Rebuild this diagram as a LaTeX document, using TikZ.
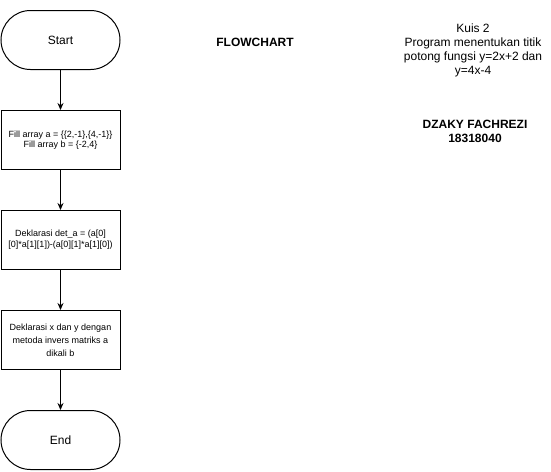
\documentclass[tikz,border=0pt]{standalone}
\usepackage{fontspec}
\setmainfont{Liberation Sans}
\usetikzlibrary{arrows.meta}
\begin{document}
\begin{tikzpicture}[x=1pt,y=-1pt,>={Stealth[length=7pt,width=6pt]},line width=1pt,
  terminal/.style={draw,rounded corners=29.5pt,minimum width=119pt,minimum height=59pt,inner sep=0pt,font=\fontsize{12}{14}\selectfont},
  procbox/.style={draw,minimum width=119pt,minimum height=59pt,inner sep=0pt,align=center}]
  \useasboundingbox (0,0) rectangle (551,471);
  % flow
  \node[terminal] (start) at (60.5,40) {Start};
  \node[procbox,font=\fontsize{9}{10.6}\selectfont] (fill) at (60.5,140)
    {Fill array a = \{\{2,-1\},\{4,-1\}\}\\Fill array b = \{-2,4\}};
  \node[procbox,font=\fontsize{9}{11}\selectfont] (det) at (60.5,240)
    {Deklarasi det\_a = (a[0]\\{}[0]*a[1][1])-(a[0][1]*a[1][0])};
  \node[procbox,font=\fontsize{9}{13}\selectfont] (xy) at (60.5,340)
    {Deklarasi x dan y dengan\\metoda invers matriks a\\dikali b};
  \node[terminal] (end) at (60.5,440) {End};
  \draw[->] (start) -- (fill);
  \draw[->] (fill) -- (det);
  \draw[->] (det) -- (xy);
  \draw[->] (xy) -- (end);
  % titles
  \node[font=\fontsize{12}{14}\selectfont\bfseries] (title) at (255,42) {FLOWCHART};
  \node[align=center,font=\fontsize{12}{13.8}\selectfont] (kuis) at (473,50.5)
    {Kuis 2\\Program menentukan titik\\potong fungsi y=2x+2 dan\\y=4x-4};
  \node[align=center,font=\fontsize{12}{14}\selectfont\bfseries] (nama) at (475,131)
    {DZAKY FACHREZI\\18318040};
\end{tikzpicture}
\end{document}
